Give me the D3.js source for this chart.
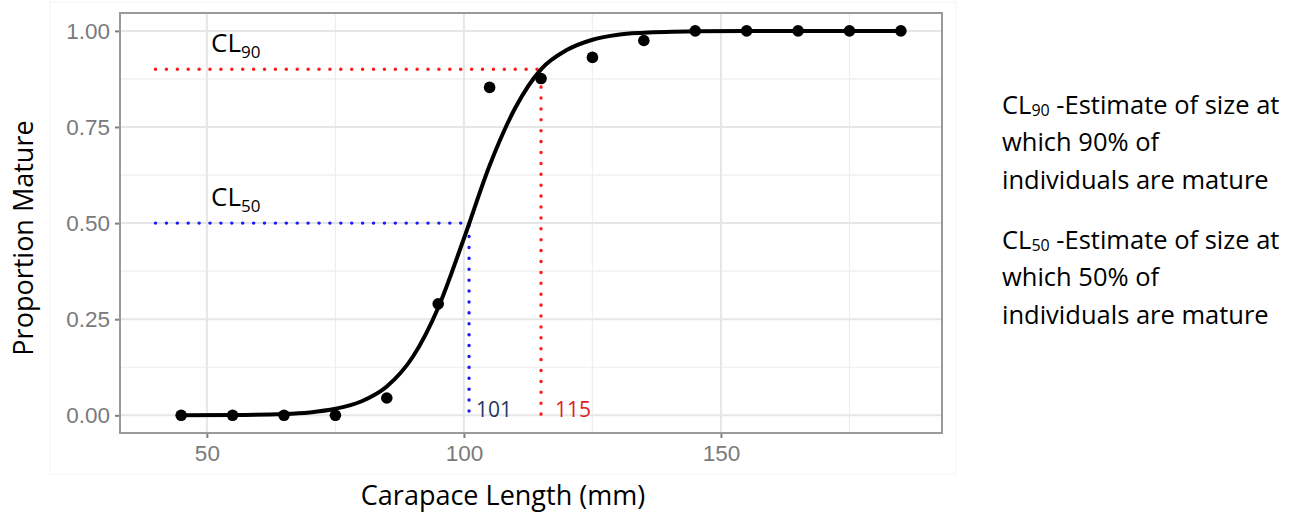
<!DOCTYPE html>
<html>
<head>
<meta charset="utf-8">
<script src="https://cdn.jsdelivr.net/npm/d3@7"></script>
<style>
  body { margin: 0; background: #fff; }
  text { font-family: "Open Sans", sans-serif; }
</style>
</head>
<body>
<div id="chart"></div>
<script>
// observed proportion mature per size class
const sizeClass = [45, 55, 65, 75, 85, 95, 105, 115, 125, 135, 145, 155, 165, 175, 185];
const propMature = [0, 0, 0, 0, 0.045, 0.29, 0.853, 0.876, 0.931, 0.975, 1, 1, 1, 1, 1];

// fitted curve
const curveX = [45, 55, 65, 70, 75, 80, 85, 90, 95, 100, 105, 110, 115, 120, 125, 130, 135, 145, 155, 165, 175, 185];
const curveY = [0.0002, 0.0008, 0.0035, 0.0076, 0.017, 0.036, 0.075, 0.151, 0.28, 0.46, 0.65, 0.80, 0.90, 0.95, 0.977, 0.99, 0.995, 0.999, 1, 1, 1, 1];

const xTicks = [50, 100, 150];
const yTicks = [0, 0.25, 0.5, 0.75, 1];
const xMinor = [75, 125, 175];
const yMinor = [0.125, 0.375, 0.625, 0.875];

// CL50 / CL90 estimates
const clValues = [
  { name: '50', size: 101, p: 0.5, color: '#1a1aff', labelColor: '#1f3864', lineStart: 40, gap: 7 },
  { name: '90', size: 115, p: 0.9, color: '#ff1a1a', labelColor: '#e0201e', lineStart: 40, gap: 14 }
];

const noteLines = [
  ['90', '-Estimate of size at', 'which 90% of', 'individuals are mature'],
  ['50', '-Estimate of size at', 'which 50% of', 'individuals are mature']
];

const width = 1298;
const height = 516;
const panel = { left: 120, top: 13, right: 942, bottom: 433 };

const svg = d3.select('#chart').append('svg')
  .attr('width', width)
  .attr('height', height);

const xScale = d3.scaleLinear().domain([33.1, 193]).range([panel.left, panel.right]);
const yScale = d3.scaleLinear().domain([-0.046, 1.0465]).range([panel.bottom, panel.top]);

// faint outer frame
svg.append('rect')
  .attr('x', 50).attr('y', 2).attr('width', 906).attr('height', 472)
  .attr('fill', 'none').attr('stroke', '#f4f4f4').attr('stroke-width', 1);

const grid = svg.append('g');
grid.selectAll('.vminor').data(xMinor).join('line')
  .attr('x1', d => xScale(d)).attr('x2', d => xScale(d))
  .attr('y1', panel.top).attr('y2', panel.bottom)
  .attr('stroke', '#eeeeee').attr('stroke-width', 1.2);
grid.selectAll('.hminor').data(yMinor).join('line')
  .attr('y1', d => yScale(d)).attr('y2', d => yScale(d))
  .attr('x1', panel.left).attr('x2', panel.right)
  .attr('stroke', '#eeeeee').attr('stroke-width', 1.2);
grid.selectAll('.vmajor').data(xTicks).join('line')
  .attr('x1', d => xScale(d)).attr('x2', d => xScale(d))
  .attr('y1', panel.top).attr('y2', panel.bottom)
  .attr('stroke', '#e6e6e6').attr('stroke-width', 2);
grid.selectAll('.hmajor').data(yTicks).join('line')
  .attr('y1', d => yScale(d)).attr('y2', d => yScale(d))
  .attr('x1', panel.left).attr('x2', panel.right)
  .attr('stroke', '#e6e6e6').attr('stroke-width', 2);

// axes
const xAxis = svg.append('g')
  .attr('transform', `translate(0,${panel.bottom})`)
  .call(d3.axisBottom(xScale).tickValues(xTicks).tickSize(5).tickPadding(7));
const yAxis = svg.append('g')
  .attr('transform', `translate(${panel.left},0)`)
  .call(d3.axisLeft(yScale).tickValues(yTicks).tickFormat(d3.format('.2f')).tickSize(5).tickPadding(5));
[xAxis, yAxis].forEach(a => {
  a.select('.domain').remove();
  a.selectAll('.tick line').attr('stroke', '#7f7f7f').attr('stroke-width', 2);
  a.selectAll('.tick text')
    .attr('fill', '#7a7a7a')
    .style('font-family', '"Liberation Sans", Arial, sans-serif')
    .style('font-size', '22.5px');
});

// panel border
svg.append('rect')
  .attr('x', panel.left).attr('y', panel.top)
  .attr('width', panel.right - panel.left).attr('height', panel.bottom - panel.top)
  .attr('fill', 'none').attr('stroke', '#9a9a9a').attr('stroke-width', 2);

// dotted reference lines
clValues.forEach(c => {
  const path = d3.path();
  path.moveTo(xScale(c.lineStart), yScale(c.p));
  path.lineTo(xScale(c.size), yScale(c.p));
  path.lineTo(xScale(c.size), yScale(0));
  svg.append('path')
    .attr('d', path.toString())
    .attr('fill', 'none')
    .attr('stroke', c.color)
    .attr('stroke-width', 3.4)
    .attr('stroke-linecap', 'round')
    .attr('stroke-dasharray', '0.1,10.8');

  svg.append('text')
    .attr('x', xScale(c.size) + c.gap)
    .attr('y', yScale(0) + 2)
    .attr('fill', c.labelColor)
    .style('font-size', '21px')
    .text(c.size);

  const lab = svg.append('text')
    .attr('x', 211)
    .attr('y', yScale(c.p) - 17)
    .attr('fill', '#000')
    .style('font-size', '26px');
  lab.append('tspan').text('CL');
  lab.append('tspan').attr('dy', 6).style('font-size', '17px').text(c.name);
});

// fitted curve
const line = d3.line()
  .x((d, i) => xScale(curveX[i]))
  .y(d => yScale(d))
  .curve(d3.curveMonotoneX);
svg.append('path')
  .datum(curveY)
  .attr('d', line)
  .attr('fill', 'none')
  .attr('stroke', '#000')
  .attr('stroke-width', 4);

// observed points
svg.selectAll('.pt').data(propMature).join('circle')
  .attr('cx', (d, i) => xScale(sizeClass[i]))
  .attr('cy', d => yScale(d))
  .attr('r', 5.8)
  .attr('fill', '#000');

// axis titles
svg.append('text')
  .attr('x', 503).attr('y', 505)
  .attr('text-anchor', 'middle')
  .style('font-size', '27px')
  .text('Carapace Length (mm)');
svg.append('text')
  .attr('transform', 'translate(33,238) rotate(-90)')
  .attr('text-anchor', 'middle')
  .style('font-size', '27px')
  .text('Proportion Mature');

// notes at right
noteLines.forEach((n, k) => {
  const y0 = 114 + k * 135;
  const t = svg.append('text').attr('x', 1002).attr('y', y0).style('font-size', '25.5px');
  t.append('tspan').text('CL');
  t.append('tspan').attr('dy', 2).style('font-size', '16px').text(n[0]);
  t.append('tspan').attr('dy', -2).text(' ' + n[1]);
  svg.append('text').attr('x', 1002).attr('y', y0 + 37).style('font-size', '25.5px').text(n[2]);
  svg.append('text').attr('x', 1002).attr('y', y0 + 75).style('font-size', '25.5px').text(n[3]);
});
</script>
</body>
</html>
